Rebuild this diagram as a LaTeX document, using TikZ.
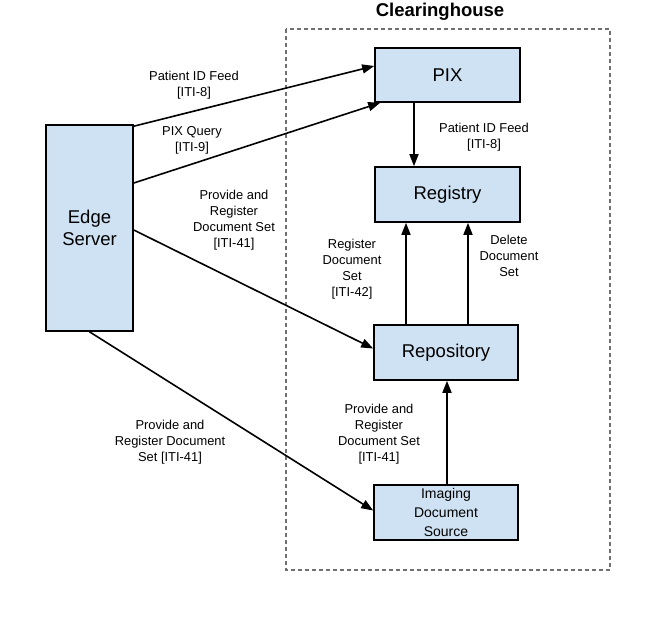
\documentclass[tikz,border=0pt]{standalone}
\usepackage{fontspec}
\setmainfont{Liberation Sans}
\usetikzlibrary{arrows.meta,calc}
\begin{document}
\begin{tikzpicture}[x=1pt,y=-1pt,
  box/.style={draw=black,line width=1.6pt,fill=boxblue,inner sep=0pt,align=center,font=\fontsize{18.5}{22}\selectfont},
  lbl/.style={align=center,inner sep=0pt,font=\fontsize{12.9}{16}\selectfont},
  arr/.style={line width=1.6pt,-{Triangle[length=12pt,width=9pt]}},
  cluster/.style={draw=dashgray,dash pattern=on 4pt off 3pt,line width=1.3pt}]
\definecolor{boxblue}{HTML}{CFE2F3}
\definecolor{dashgray}{HTML}{707070}
\useasboundingbox[fill=white] (0,0) rectangle (666,624);
% clearinghouse
\draw[cluster] (286,29) rectangle (610,570);
\node[font=\bfseries\fontsize{18.5}{22}\selectfont,inner sep=0pt] (title) at (440,12) {Clearinghouse};
% boxes
\node[box,minimum width=87pt,minimum height=206pt] (edge) at (89.5,228) {Edge\\Server};
\node[box,minimum width=145pt,minimum height=54pt] (pix) at (447.5,75) {PIX};
\node[box,minimum width=145pt,minimum height=55pt] (reg) at (447.5,194.5) {Registry};
\node[box,minimum width=144pt,minimum height=55pt] (rep) at (446,352.5) {Repository};
\node[box,minimum width=144pt,minimum height=55pt,font=\fontsize{14}{19}\selectfont] (ids) at (446,512.5) {Imaging\\Document\\Source};
% connectors
\draw[arr] ([yshift=-2pt]edge.north east) -- ([yshift=9pt]pix.west);
\draw[arr] ([yshift=45pt]edge.east) -- ([xshift=6pt]pix.south west);
\draw[arr] ([yshift=-2pt]edge.east) -- ([yshift=4pt]rep.west);
\draw[arr] (edge.south) -- ([yshift=2pt]ids.west);
\draw[arr] ([xshift=-33.5pt]pix.south) -- ([xshift=-33.5pt]reg.north);
\draw[arr] ([xshift=-40pt]rep.north) -- ([xshift=-40pt]rep.north |- reg.south);
\draw[arr] ([xshift=22pt]rep.north) -- ([xshift=22pt]rep.north |- reg.south);
\draw[arr] ([xshift=1pt]ids.north) -- ([xshift=1pt]rep.south);
% labels
\node[lbl] (l1) at (194,85) {Patient ID Feed\\{[ITI-8]}};
\node[lbl] (l2) at (192,140) {PIX Query\\{[ITI-9]}};
\node[lbl] (l3) at (234,220) {Provide and\\Register\\Document Set\\{[ITI-41]}};
\node[lbl] (l4) at (170,442) {Provide and\\Register Document\\Set [ITI-41]};
\node[lbl] (l5) at (484,137) {Patient ID Feed\\{[ITI-8]}};
\node[lbl] (l6) at (352,269) {Register\\Document\\Set\\{[ITI-42]}};
\node[lbl] (l7) at (509,256) {Delete\\Document\\Set};
\node[lbl] (l8) at (379,434) {Provide and\\Register\\Document Set\\{[ITI-41]}};
\end{tikzpicture}
\end{document}
